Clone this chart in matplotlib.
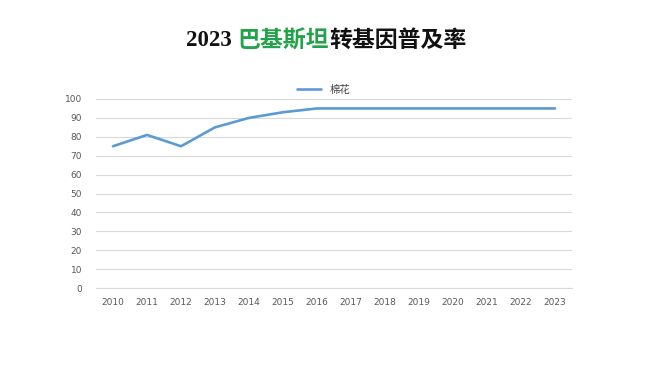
import matplotlib
matplotlib.use("Agg")
import matplotlib.pyplot as plt

plt.rcParams['font.family'] = ['Noto Sans CJK SC', 'DejaVu Sans']

years = ['2010', '2011', '2012', '2013', '2014', '2015', '2016',
         '2017', '2018', '2019', '2020', '2021', '2022', '2023']
cotton = [75, 81, 75, 85, 90, 93, 95, 95, 95, 95, 95, 95, 95, 95]
series_name = '棉花'
yticks = [0, 10, 20, 30, 40, 50, 60, 70, 80, 90, 100]

fig = plt.figure(figsize=(6.5, 3.65), dpi=100)
fig.patch.set_facecolor('white')
ax = fig.add_axes([96/650, 1-288/365, (572-96)/650, (288-99)/365])

x = list(range(len(years)))
ax.plot(x, cotton, color='#5b9bd5', lw=1.9, label=series_name, solid_capstyle='round')
ax.set_xlim(-0.5, len(years)-0.5)
ax.set_ylim(0, 100)
ax.set_yticks(yticks)
ax.set_xticks(x)
ax.set_xticklabels(years)
ax.grid(axis='y', color='#d9d9d9', lw=0.8)
ax.set_axisbelow(True)
for s in ['top', 'right', 'left']:
    ax.spines[s].set_visible(False)
ax.spines['bottom'].set_color('#d9d9d9')
ax.spines['bottom'].set_linewidth(0.8)
ax.tick_params(axis='both', length=0, labelsize=6.5, colors='#595959', pad=7)
ax.tick_params(axis='y', pad=10)
for lab in ax.get_yticklabels() + ax.get_xticklabels():
    lab.set_family(['DejaVu Sans'])

leg = fig.legend(loc='center', bbox_to_anchor=(324/650, 1-90/365), frameon=False,
                 fontsize=7.5, handlelength=2.3, handletextpad=0.8, labelcolor='#404040')

# Title with mixed colors
tfam = ['Liberation Serif', 'Noto Sans CJK SC']
fs = 16.5
ty = 1 - 41/365
parts = [('2023 ', '#111111'), ('巴基斯坦', '#22a34a'), ('转基因普及率', '#111111')]
fig.canvas.draw()
r = fig.canvas.get_renderer()
texts = []
xpos = 0
for s, c in parts:
    t = fig.text(xpos, ty, s, fontsize=fs, fontweight='bold', color=c,
                 family=tfam, va='center', ha='left')
    w = t.get_window_extent(r).width
    texts.append((t, w))
    xpos += w / 650
total = xpos * 650
start = 326 - total / 2
cur = start
for t, w in texts:
    t.set_x(cur / 650)
    cur += w

fig.savefig('out.png', dpi=100, facecolor='white')
